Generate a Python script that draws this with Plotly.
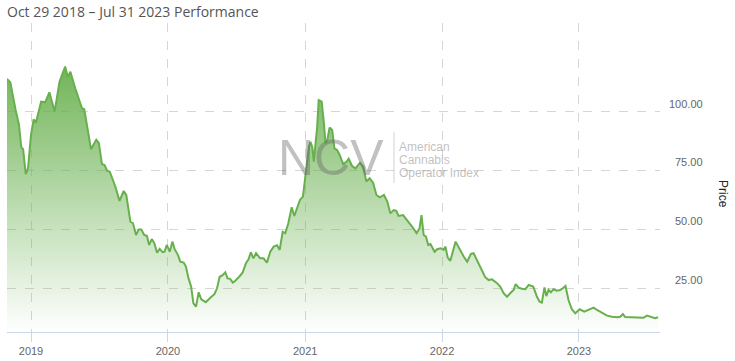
import plotly.graph_objects as go

dates = [
    "2018-10-29", "2018-11-07", "2018-11-21", "2018-11-30", "2018-12-06", "2018-12-11", "2018-12-18", "2018-12-24",
    "2019-01-01", "2019-01-08", "2019-01-14", "2019-01-28", "2019-02-08", "2019-02-19", "2019-03-05", "2019-03-18",
    "2019-04-02", "2019-04-09", "2019-04-16", "2019-04-29", "2019-05-17", "2019-05-23", "2019-06-10", "2019-06-24",
    "2019-07-01", "2019-07-09", "2019-07-16", "2019-07-23", "2019-07-30", "2019-08-14", "2019-08-25", "2019-09-05",
    "2019-09-12", "2019-09-23", "2019-09-30", "2019-10-08", "2019-10-15", "2019-10-22", "2019-10-30", "2019-11-06",
    "2019-11-12", "2019-11-19", "2019-11-26", "2019-12-03", "2019-12-10", "2019-12-18", "2019-12-23", "2019-12-29",
    "2020-01-06", "2020-01-13", "2020-01-19", "2020-01-28", "2020-02-03", "2020-02-12", "2020-02-18", "2020-02-25",
    "2020-03-03", "2020-03-09", "2020-03-16", "2020-03-23", "2020-03-30", "2020-04-11", "2020-04-23", "2020-05-04",
    "2020-05-11", "2020-05-18", "2020-05-26", "2020-06-02", "2020-06-08", "2020-06-15", "2020-06-22", "2020-06-28",
    "2020-07-09", "2020-07-18", "2020-07-27", "2020-08-03", "2020-08-09", "2020-08-16", "2020-08-23", "2020-09-03",
    "2020-09-12", "2020-09-21", "2020-09-30", "2020-10-09", "2020-10-18", "2020-10-25", "2020-11-02", "2020-11-09",
    "2020-11-17", "2020-11-26", "2020-12-03", "2020-12-11", "2020-12-18", "2020-12-26",
    "2021-01-02", "2021-01-11", "2021-01-15", "2021-01-20", "2021-01-24", "2021-01-29", "2021-02-02", "2021-02-06",
    "2021-02-14", "2021-02-20", "2021-02-24", "2021-03-01", "2021-03-07", "2021-03-14", "2021-03-20", "2021-03-27",
    "2021-04-03", "2021-04-12", "2021-04-21", "2021-04-27", "2021-05-06", "2021-05-15", "2021-05-27", "2021-06-05",
    "2021-06-13", "2021-06-22", "2021-07-01", "2021-07-10", "2021-07-19", "2021-07-30", "2021-08-08", "2021-08-16",
    "2021-08-25", "2021-09-01", "2021-09-07", "2021-09-19", "2021-09-30", "2021-10-13", "2021-10-25", "2021-11-02",
    "2021-11-07", "2021-11-13", "2021-11-19", "2021-11-25", "2021-12-01", "2021-12-07", "2021-12-12", "2021-12-19",
    "2021-12-28",
    "2022-01-05", "2022-01-10", "2022-01-16", "2022-01-23", "2022-02-06", "2022-02-17", "2022-02-28", "2022-03-09",
    "2022-03-19", "2022-03-26", "2022-04-06", "2022-04-18", "2022-04-26", "2022-05-05", "2022-05-14", "2022-05-26",
    "2022-06-05", "2022-06-14", "2022-06-23", "2022-07-04", "2022-07-11", "2022-07-16", "2022-07-24", "2022-08-02",
    "2022-08-11", "2022-08-20", "2022-09-01", "2022-09-11", "2022-09-18", "2022-09-24", "2022-10-01", "2022-10-06",
    "2022-10-12", "2022-10-18", "2022-10-25", "2022-11-03", "2022-11-12", "2022-11-19", "2022-11-26", "2022-12-04",
    "2022-12-13", "2022-12-22",
    "2023-01-03", "2023-01-15", "2023-01-27", "2023-02-09", "2023-02-18", "2023-03-03", "2023-03-17", "2023-03-30",
    "2023-04-12", "2023-04-21", "2023-04-28", "2023-05-04", "2023-05-18", "2023-06-05", "2023-06-22", "2023-07-01",
    "2023-07-10", "2023-07-17", "2023-07-23", "2023-07-31",
]

prices = [
    113.9, 112.4, 100.7, 94.3, 84.9, 84.0, 73.5, 75.9,
    90.1, 96.7, 95.3, 104.2, 104.0, 108.2, 100.0, 112.7,
    119.1, 114.8, 116.9, 109.9, 101.4, 101.0, 84.0, 88.0,
    86.6, 77.8, 77.3, 74.9, 74.5, 68.1, 62.1, 66.3,
    64.6, 53.3, 52.6, 47.6, 50.0, 50.0, 47.6, 47.3,
    43.4, 45.9, 44.1, 40.1, 41.7, 40.3, 40.5, 43.4,
    40.5, 44.8, 41.6, 39.1, 36.3, 35.9, 34.2, 29.2,
    25.7, 18.6, 17.2, 23.3, 20.3, 19.1, 21.0, 22.5,
    25.0, 29.9, 30.6, 31.8, 29.2, 29.0, 27.4, 28.1,
    29.9, 31.6, 35.6, 37.3, 40.3, 37.7, 39.9, 37.7,
    37.7, 35.9, 40.5, 42.7, 43.3, 41.3, 49.0, 48.4,
    52.6, 59.4, 55.7, 59.6, 62.5, 63.9,
    73.1, 85.1, 87.2, 84.9, 78.7, 85.8, 93.6, 104.9,
    104.2, 95.0, 86.6, 88.0, 93.2, 92.2, 84.4, 83.7,
    81.6, 77.8, 78.7, 80.0, 76.9, 75.9, 78.3, 76.6,
    70.3, 71.7, 69.8, 64.6, 63.6, 64.6, 61.8, 56.8,
    58.2, 57.9, 55.7, 56.1, 54.0, 51.2, 48.4, 50.5,
    56.1, 47.6, 46.9, 43.4, 43.8, 42.0, 40.5, 41.6,
    42.0,
    41.3, 42.7, 38.0, 36.7, 44.8, 41.3, 38.4, 36.3,
    39.6, 39.9, 36.3, 32.1, 29.7, 28.5, 28.8, 27.4,
    25.7, 22.9, 21.4, 23.3, 24.3, 26.8, 25.3, 24.8,
    24.6, 26.4, 25.7, 21.4, 19.3, 18.9, 25.4, 21.7,
    24.3, 23.3, 24.6, 24.0, 24.3, 25.0, 26.0, 20.0,
    16.1, 14.4,
    16.1, 15.1, 15.8, 16.8, 15.8, 14.6, 13.4, 12.9,
    12.7, 12.9, 14.1, 12.8, 12.7, 12.7, 12.5, 13.4,
    12.9, 12.3, 12.3, 12.7,
]

y_ticks = [25, 50, 75, 100]
title_text = "Oct 29 2018 \u2013 Jul 31 2023 Performance"
watermark_big = "NCV"
watermark_lines = ["American", "Cannabis", "Operator Index"]

fig = go.Figure()
fig.add_trace(go.Scatter(
    x=dates, y=prices, mode="lines",
    line=dict(color="#68b04e", width=2),
    fill="tozeroy",
    fillgradient=dict(
        type="vertical",
        colorscale=[[0, "rgba(106,177,80,0)"], [1, "rgba(106,177,80,0.95)"]],
        start=6, stop=119,
    ),
    hoverinfo="x+y",
    showlegend=False,
))

W, H = 735, 361
ml, mr, mt, mb = 7, 75, 23, 29
pw = W - ml - mr
ph = H - mt - mb

def px(xp):
    return (xp - ml) / pw

def py(yp):
    return (H - mb - yp) / ph

annotations = []
for v in y_ticks:
    annotations.append(dict(
        x=px(705), xref="paper", xanchor="right",
        y=v, yref="y", yanchor="bottom",
        text=f"{v:.2f}", showarrow=False,
        font=dict(family="Liberation Sans, Arial", size=11, color="#666666"),
    ))
annotations.append(dict(
    x=px(723), xref="paper", xanchor="center", y=py(194), yref="paper", yanchor="middle",
    text="Price", textangle=90, showarrow=False,
    font=dict(family="Liberation Sans, Arial", size=12, color="#222222"),
))
annotations.append(dict(
    x=px(5), xref="paper", xanchor="left", y=py(11), yref="paper", yanchor="middle",
    text=title_text, showarrow=False,
    font=dict(family="Open Sans", size=14, color="#555555"),
))
annotations.append(dict(
    x=px(331), xref="paper", y=py(158), yref="paper",
    text=watermark_big, showarrow=False,
    font=dict(family="Liberation Sans, Arial", size=50, color="rgba(100,100,100,0.4)"),
))
for i, t in enumerate(watermark_lines):
    annotations.append(dict(
        x=px(397), xref="paper", xanchor="left", y=py(147 + 13 * i), yref="paper", yanchor="middle",
        text=t, showarrow=False,
        font=dict(family="Liberation Sans, Arial", size=12, color="rgba(150,150,150,0.6)"),
    ))

fig.update_layout(
    width=W, height=H,
    margin=dict(l=ml, r=mr, t=mt, b=mb, autoexpand=False),
    paper_bgcolor="white", plot_bgcolor="white",
    annotations=annotations,
    shapes=[dict(type="line", xref="paper", yref="paper",
                 x0=px(394), x1=px(394), y0=py(183), y1=py(132),
                 line=dict(color="rgba(180,180,180,0.6)", width=1))],
    xaxis=dict(
        type="date", range=["2018-10-29", "2023-08-05"],
        tick0="2019-01-01", dtick="M12", tickformat="%Y",
        ticks="outside", ticklen=9, tickcolor="#ccd6eb",
        showline=True, linecolor="#ccd6eb", linewidth=1,
        showgrid=True, gridcolor="#d6d6d6", griddash="dash", gridwidth=1,
        tickfont=dict(family="Liberation Sans, Arial", size=11, color="#666666"),
        zeroline=False, fixedrange=True,
    ),
    yaxis=dict(
        range=[6.45, 137.6], side="right",
        tickvals=y_ticks, showticklabels=False, ticks="",
        showgrid=True, gridcolor="#d6d6d6", griddash="dash", gridwidth=1,
        zeroline=False, showline=False, fixedrange=True,
    ),
)

fig.write_html(
    "out.html",
    config={"displayModeBar": False},
    post_script="document.body.style.margin='0';document.body.style.overflow='hidden';",
)
